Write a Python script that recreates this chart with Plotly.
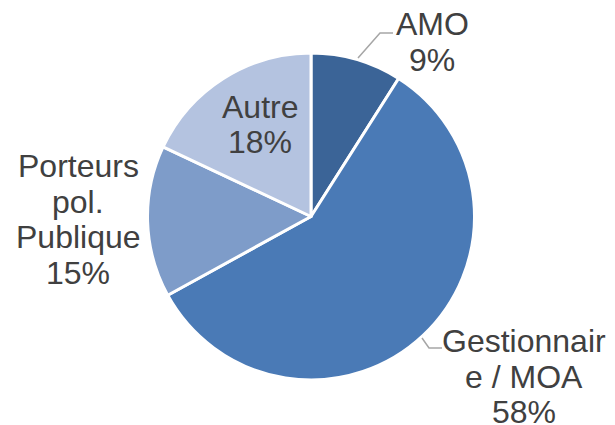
import plotly.graph_objects as go

categories = ["AMO", "Gestionnaire / MOA", "Porteurs pol. Publique", "Autre"]
values = [9, 58, 15, 18]
colors = ["#3B6497", "#4A7AB6", "#7E9CC9", "#B4C3E0"]
label_lines = [["AMO", "9%"], ["Gestionnair", "e / MOA", "58%"],
               ["Porteurs", "pol.", "Publique", "15%"], ["Autre", "18%"]]

W, H = 615, 425
cx, cy, r = 311, 216.5, 163.5

fig = go.Figure(go.Pie(
    labels=categories, values=values, sort=False, direction="clockwise", rotation=0,
    marker=dict(colors=colors, line=dict(color="white", width=3)),
    textinfo="none", hoverinfo="label+percent", showlegend=False,
    domain=dict(x=[(cx - r) / W, (cx + r) / W], y=[1 - (cy + r) / H, 1 - (cy - r) / H]),
))

# label block positions (pixel centres of first line) and line spacing
label_pos = [(432, 24), (524, 341), (78, 166), (260, 107)]
spacing = 35.5
annotations = []
for lines, (lx, ly) in zip(label_lines, label_pos):
    for i, t in enumerate(lines):
        annotations.append(dict(
            x=lx / W, y=1 - (ly + i * spacing) / H, xref="paper", yref="paper",
            text=t, showarrow=False, xanchor="center", yanchor="middle",
            font=dict(family="Liberation Sans, Arial", size=32, color="#404040")))

def path(pts):
    return "M " + " L ".join(f"{x / W},{1 - y / H}" for x, y in pts)

shapes = [
    dict(type="path", xref="paper", yref="paper", path=path([(358, 58), (380, 33), (393, 33)]),
         line=dict(color="#A6A6A6", width=1.5)),
    dict(type="path", xref="paper", yref="paper", path=path([(422, 338), (429, 348), (442, 348)]),
         line=dict(color="#A6A6A6", width=1.5)),
]

fig.update_layout(width=W, height=H, margin=dict(l=0, r=0, t=0, b=0),
                  paper_bgcolor="white", plot_bgcolor="white",
                  annotations=annotations, shapes=shapes)
fig.write_html("out.html", config={"displayModeBar": False},
               post_script="document.body.style.margin='0';")
